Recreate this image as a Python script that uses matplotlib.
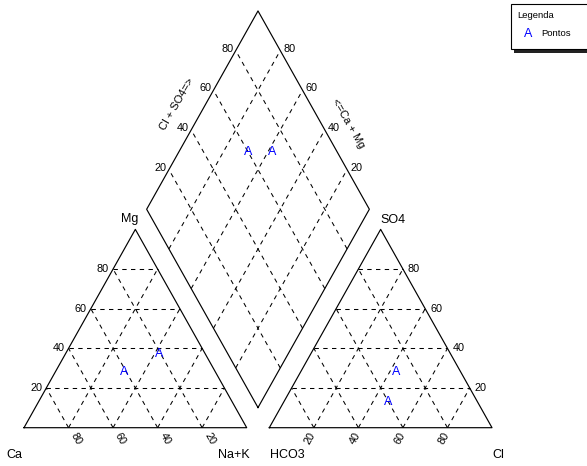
import numpy as np
import matplotlib.pyplot as plt
from matplotlib.patches import Rectangle

plt.rcParams["font.family"] = ["Liberation Sans", "DejaVu Sans"]

# two water samples, % of meq/L
ca = [41, 21]
mg = [28, 37]
nak = [31, 42]
hco3 = [40, 29]
so4 = [13, 28]
cl = [47, 43]
ticks = [20, 40, 60, 80]

GAP = 0.1015
S3 = np.sqrt(3) / 2
W, H = 587, 466
BX, BY = 1 + GAP / 2, GAP / 2 * np.sqrt(3)


def left_xy(a, b):
    # a = Na+K fraction, b = Mg fraction
    return a + b / 2, b * S3


def right_xy(a, b):
    # a = Cl fraction, b = SO4 fraction
    return 1 + GAP + a + b / 2, b * S3


def diamond_xy(c, m):
    # c = Cl+SO4 fraction, m = Ca+Mg fraction
    return BX + 0.5 * (c - m), BY + S3 * (c + m)


fig = plt.figure(figsize=(W / 100, H / 100), dpi=100)
ax = fig.add_axes([0, 0, 1, 1])
ax.set_xlim(-24 / 222.7, (W - 24) / 222.7)
ax.set_ylim((427.7 - H) / 229, 427.7 / 229)
ax.axis("off")

edge = dict(color="black", lw=0.85)
grid = dict(color="black", lw=0.75, dashes=(4.2, 4.2))


def seg(p, q, **kw):
    ax.plot([p[0], q[0]], [p[1], q[1]], **kw)


# outlines
for f in (left_xy, right_xy):
    pts = [f(0, 0), f(1, 0), f(0, 1), f(0, 0)]
    ax.plot([p[0] for p in pts], [p[1] for p in pts], **edge)
pts = [diamond_xy(0, 0), diamond_xy(1, 0), diamond_xy(1, 1), diamond_xy(0, 1), diamond_xy(0, 0)]
ax.plot([p[0] for p in pts], [p[1] for p in pts], **edge)

# grids
for t in ticks:
    k = t / 100
    seg(left_xy(0, k), left_xy(1 - k, k), **grid)
    seg(left_xy(k, 0), left_xy(k, 1 - k), **grid)
    seg(left_xy(1 - k, 0), left_xy(0, 1 - k), **grid)
    seg(right_xy(0, k), right_xy(1 - k, k), **grid)
    seg(right_xy(k, 0), right_xy(k, 1 - k), **grid)
    seg(right_xy(1 - k, 0), right_xy(0, 1 - k), **grid)
    seg(diamond_xy(k, 0), diamond_xy(k, 1), **grid)
    seg(diamond_xy(0, k), diamond_xy(1, k), **grid)


def lab(txt, xy, off, size=7.8, **kw):
    ax.annotate(txt, xy=xy, xytext=off, textcoords="offset pixels",
                fontsize=size, **kw)


for t in ticks:
    k = t / 100
    lab(str(t), left_xy(0, k), (-4, 0), ha="right", va="center")
    lab(str(t), left_xy(1 - k, 0), (7.5, -11), ha="center", va="center", rotation=-60)
    lab(str(t), right_xy(1 - k, k), (5, 0), ha="left", va="center")
    lab(str(t), right_xy(k, 0), (-3.5, -11), ha="center", va="center", rotation=60)
    lab(str(t), diamond_xy(k, 1), (-2, 2), ha="right", va="center")
    lab(str(t), diamond_xy(1, k), (3, 2), ha="left", va="center")

lab("Cl + SO4=>", diamond_xy(0.5, 1), (-25.5, 5.5), size=8, ha="center", va="center", rotation=60)
lab("<=Ca + Mg", diamond_xy(1, 0.5), (34, -13.5), size=8, ha="center", va="center", rotation=-60)

lab("Ca", left_xy(0, 0), (-9.5, -27), size=9, ha="center", va="center")
lab("Na+K", left_xy(1, 0), (-13, -27), size=9, ha="center", va="center")
lab("Mg", left_xy(0, 1), (-5.3, 10), size=9, ha="center", va="center")
lab("SO4", right_xy(0, 1), (12.6, 9.5), size=9, ha="center", va="center")
lab("HCO3", right_xy(0, 0), (18, -27), size=9, ha="center", va="center")
lab("Cl", right_xy(1, 0), (6, -27), size=9, ha="center", va="center")

# sample points
for i in range(len(ca)):
    x, y = left_xy(nak[i] / 100, mg[i] / 100)
    ax.text(x, y, "A", color="blue", fontsize=9, ha="center", va="center")
    x, y = right_xy(cl[i] / 100, so4[i] / 100)
    ax.text(x, y, "A", color="blue", fontsize=9, ha="center", va="center")
    x, y = diamond_xy((cl[i] + so4[i]) / 100, (ca[i] + mg[i]) / 100)
    ax.text(x, y, "A", color="blue", fontsize=9, ha="center", va="center")

# legend box with shadow
def fx(px):
    return px / W


def fy(py):
    return 1 - py / H


fig.patches.append(Rectangle((fx(514), fy(53)), fx(90), 45 / H, transform=fig.transFigure,
                             facecolor="#222222", edgecolor="none", zorder=1))
fig.patches.append(Rectangle((fx(511), fy(49)), fx(90), 45 / H, transform=fig.transFigure,
                             facecolor="white", edgecolor="black", lw=0.8, zorder=2))
fig.text(fx(517.5), fy(16), "Legenda", fontsize=6.8, ha="left", va="center", zorder=3)
fig.text(fx(528.3), fy(34), "A", color="blue", fontsize=9, ha="center", va="center", zorder=3)
fig.text(fx(541), fy(34), "Pontos", fontsize=6.8, ha="left", va="center", zorder=3)

fig.savefig("out.png", dpi=100)
